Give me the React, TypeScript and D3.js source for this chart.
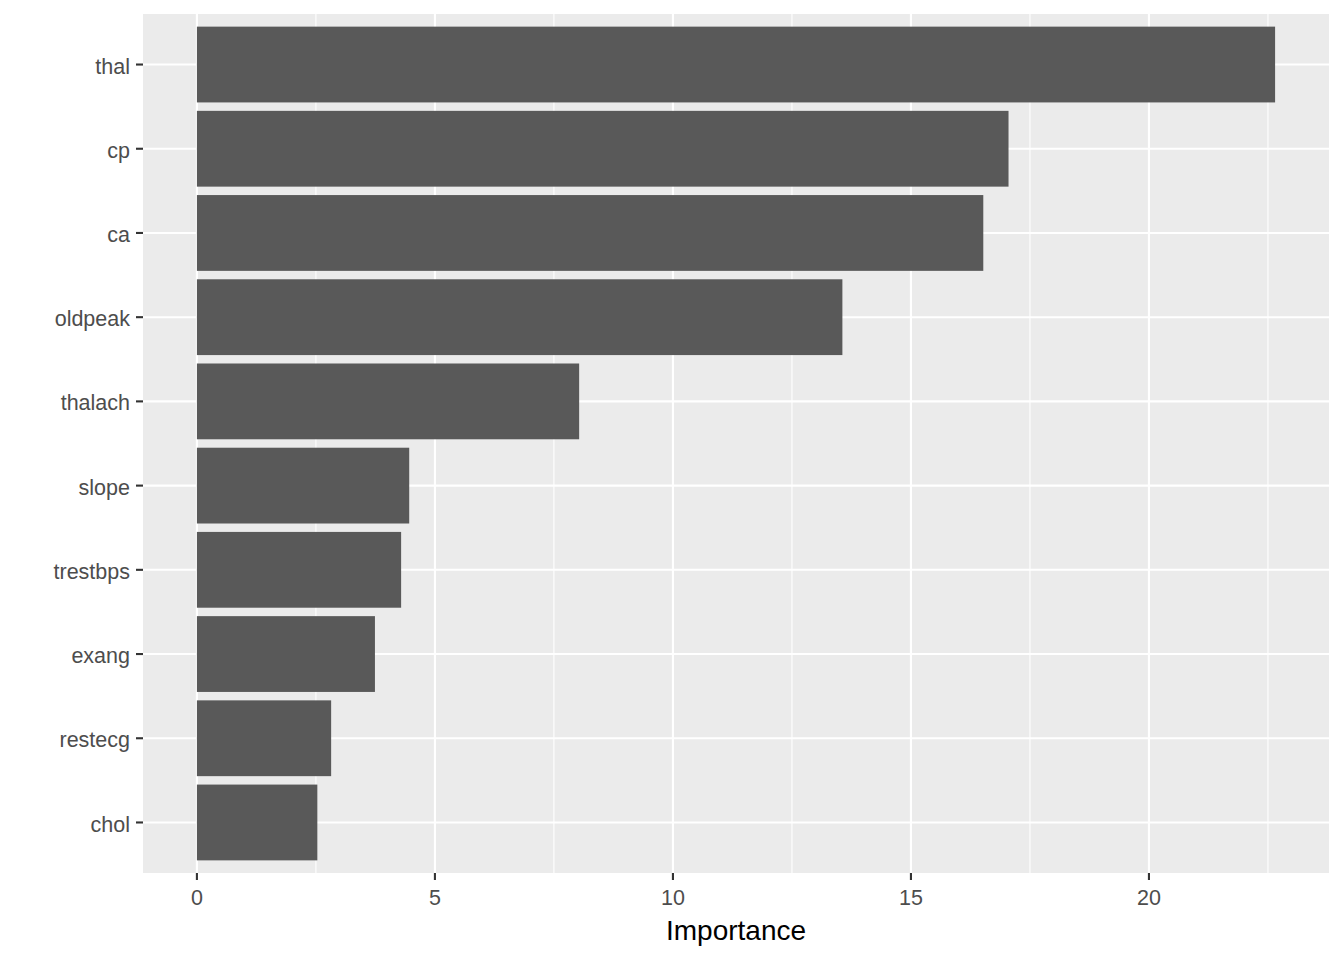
import React from "react";
import * as d3 from "d3";

const features = ["thal", "cp", "ca", "oldpeak", "thalach", "slope", "trestbps", "exang", "restecg", "chol"];
const importance = [22.65, 17.05, 16.52, 13.56, 8.03, 4.46, 4.29, 3.74, 2.82, 2.53];
const xTicks = [0, 5, 10, 15, 20];
const xMinorTicks = [2.5, 7.5, 12.5, 17.5, 22.5];
const xTitle = "Importance";

const W = 1344;
const H = 960;
const panel = { left: 143, right: 1329, top: 14, bottom: 873 };

export default function App() {
  const maxV = d3.max(importance) as number;
  const pad = maxV * 0.05;
  const x = d3.scaleLinear().domain([-pad, maxV + pad]).range([panel.left, panel.right]);
  const n = features.length;
  const y = d3
    .scaleLinear()
    .domain([0.4, n + 0.6])
    .range([panel.top, panel.bottom]);
  const bandPx = y(2) - y(1);
  const barH = bandPx * 0.9;
  const font = "'Liberation Sans', Arial, sans-serif";

  return (
    <svg width={W} height={H} style={{ display: "block", position: "absolute", left: 0, top: 0 }}>
      <rect x={0} y={0} width={W} height={H} fill="#ffffff" />
      <rect
        x={panel.left}
        y={panel.top}
        width={panel.right - panel.left}
        height={panel.bottom - panel.top}
        fill="#EBEBEB"
      />
      {xMinorTicks.map((t) => (
        <line key={"mx" + t} x1={x(t)} x2={x(t)} y1={panel.top} y2={panel.bottom} stroke="#ffffff" strokeWidth={1.1} />
      ))}
      {xTicks.map((t) => (
        <line key={"gx" + t} x1={x(t)} x2={x(t)} y1={panel.top} y2={panel.bottom} stroke="#ffffff" strokeWidth={2.1} />
      ))}
      {features.map((f, i) => (
        <line key={"gy" + f} x1={panel.left} x2={panel.right} y1={y(i + 1)} y2={y(i + 1)} stroke="#ffffff" strokeWidth={2.1} />
      ))}
      {features.map((f, i) => (
        <rect
          key={"b" + f}
          x={x(0)}
          y={y(i + 1) - barH / 2}
          width={x(importance[i]) - x(0)}
          height={barH}
          fill="#595959"
        />
      ))}
      {features.map((f, i) => (
        <g key={"yt" + f}>
          <line x1={panel.left - 7} x2={panel.left} y1={y(i + 1)} y2={y(i + 1)} stroke="#333333" strokeWidth={2.1} />
          <text
            x={panel.left - 13}
            y={y(i + 1)}
            dy="0.42em"
            textAnchor="end"
            fontFamily={font}
            fontSize={21.5}
            fill="#4D4D4D"
          >
            {f}
          </text>
        </g>
      ))}
      {xTicks.map((t) => (
        <g key={"xt" + t}>
          <line x1={x(t)} x2={x(t)} y1={panel.bottom} y2={panel.bottom + 7} stroke="#333333" strokeWidth={2.1} />
          <text x={x(t)} y={905} textAnchor="middle" fontFamily={font} fontSize={21.5} fill="#4D4D4D">
            {t}
          </text>
        </g>
      ))}
      <text
        x={(panel.left + panel.right) / 2}
        y={940}
        textAnchor="middle"
        fontFamily={font}
        fontSize={28}
        fill="#000000"
      >
        {xTitle}
      </text>
    </svg>
  );
}
